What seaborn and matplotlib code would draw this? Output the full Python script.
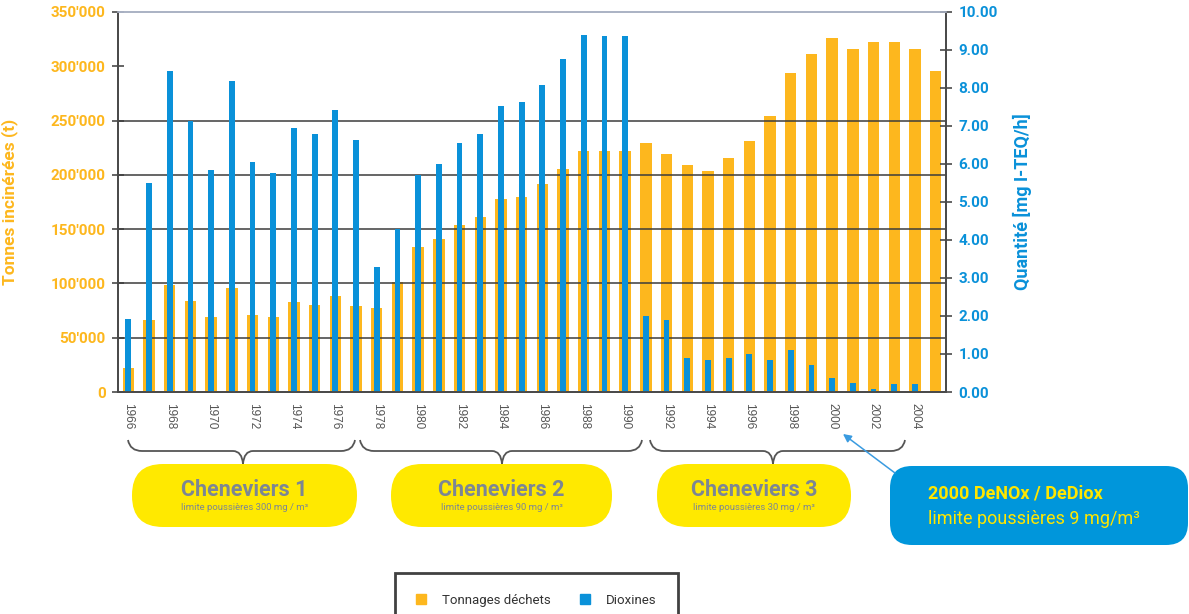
import numpy as np
import seaborn as sns
import matplotlib.pyplot as plt
from matplotlib.patches import FancyBboxPatch, Patch, PathPatch
from matplotlib.path import Path

# Data ------------------------------------------------------------------------
years = list(range(1966, 2006))
tonnes = [22000, 66000, 99000, 84000, 69000, 96000, 70500, 69000, 83000, 80500,
          88000, 79000, 77500, 101000, 133500, 140500, 154000, 161000, 178000, 179500,
          192000, 205000, 222000, 222000, 222000, 229000, 219000, 209000, 204000, 215500,
          231500, 254500, 294000, 311500, 326000, 315500, 322000, 322000, 315500, 295500]
dioxines = [1.91, 5.50, 8.44, 7.12, 5.83, 8.18, 6.04, 5.77, 6.94, 6.78,
            7.43, 6.62, 3.29, 4.29, 5.71, 5.99, 6.55, 6.78, 7.52, 7.63,
            8.09, 8.75, 9.40, 9.37, 9.37, 2.00, 1.89, 0.90, 0.83, 0.90,
            0.99, 0.83, 1.10, 0.70, 0.37, 0.25, 0.09, 0.20, 0.20, 0.0]
left_ticks = [0, 50000, 100000, 150000, 200000, 250000, 300000, 350000]
grid_levels = [50000, 100000, 150000, 200000, 250000]
right_ticks = list(range(0, 11))

phases = ["Cheneviers 1", "Cheneviers 2", "Cheneviers 3"]
phase_limits = ["limite poussières 300 mg / m³", "limite poussières 90 mg / m³",
                "limite poussières 30 mg / m³"]

ORANGE = "#FDB71E"
BLUE = "#0A91D9"
YELLOW = "#FFE900"
GREY_TXT = "#7C8694"
DARK = "#4a4a4a"

sns.set_style("white")
plt.rcParams['font.family'] = ['Roboto', 'DejaVu Sans']

fig = plt.figure(figsize=(11.89, 6.14), dpi=100)
ax = fig.add_axes([118 / 1189, 1 - 392 / 614, 828 / 1189, 380 / 614])
ax2 = ax.twinx()

labels = [str(y) for y in years]
sns.barplot(x=labels, y=tonnes, ax=ax, color=ORANGE, saturation=1, width=0.55,
            errorbar=None, linewidth=0, edgecolor="none", zorder=2)
sns.barplot(x=labels, y=dioxines, ax=ax2, color=BLUE, saturation=1, width=0.28,
            errorbar=None, linewidth=0, edgecolor="none", zorder=2)

ax.hlines(grid_levels, -0.5, 39.5, color="#3c3c3c", lw=1.1, zorder=3)

for a in (ax, ax2):
    a.set_xlim(-0.5, 39.5)
ax.set_ylim(0, 350000)
ax2.set_ylim(0, 10)

# x ticks: boundaries as minor ticks, even-year labels at centres
idx = np.arange(len(years))
ax.set_xticks(idx[::2])
ax.set_xticklabels(labels[::2], rotation=270, fontsize=8.5, color="#555555",
                   family="Liberation Sans")
ax.set_xticks(np.arange(-0.5, 40, 1), minor=True)
ax.tick_params(axis="x", which="major", length=0, pad=8, labelbottom=True)
ax.tick_params(axis="x", which="minor", length=5, width=1.2, color=DARK, direction="out")

ax.set_yticks(left_ticks)
ax.set_yticklabels([f"{v:,}".replace(",", "'") for v in left_ticks],
                   color=ORANGE, fontsize=11, fontweight="bold")
ax.tick_params(axis="y", length=8, width=1.2, color=DARK, direction="inout", pad=5)
ax2.set_yticks(right_ticks)
ax2.set_yticklabels([f"{v:.2f}" for v in right_ticks], color=BLUE, fontsize=11,
                    fontweight="bold")
ax2.tick_params(axis="y", length=8, width=1.2, color=DARK, direction="inout", pad=5)

ax.set_ylabel("Tonnes incinérées (t)", color=ORANGE, fontsize=12.5, fontweight="bold")
ax.yaxis.set_label_coords(-0.121, 0.5)
ax2.set_ylabel("Quantité [mg I-TEQ/h]", color=BLUE, fontsize=13, fontweight="bold")
ax2.yaxis.set_label_coords(1.081, 0.5)
ax.set_xlabel("")
ax2.set_xlabel("")

for a in (ax, ax2):
    for s in ("left", "right", "bottom"):
        a.spines[s].set_color(DARK)
        a.spines[s].set_linewidth(1.3)
    a.spines["top"].set_color("#aab2c4")
    a.spines["top"].set_linewidth(1.2)

# Overlay in pixel coordinates for braces and boxes --------------------------
ov = fig.add_axes([0, 0, 1, 1])
ov.set_xlim(0, 1189)
ov.set_ylim(614, 0)
ov.axis("off")
ov.patch.set_alpha(0)


def brace(x0, x1, xc, ytop=440, ymid=451, ytip=464):
    r = 10
    verts = [(x0, ytop), (x0 + 2, ymid), (x0 + r + 4, ymid),
             (xc - r, ymid), (xc - 1, ymid), (xc, ytip),
             (xc + 1, ymid), (xc + r, ymid),
             (x1 - r - 4, ymid), (x1 - 2, ymid), (x1, ytop)]
    codes = [Path.MOVETO, Path.CURVE3, Path.CURVE3,
             Path.LINETO, Path.CURVE3, Path.CURVE3,
             Path.CURVE3, Path.CURVE3,
             Path.LINETO, Path.CURVE3, Path.CURVE3]
    ov.add_patch(PathPatch(Path(verts, codes), fill=False, ec="#555555", lw=1.3))


brace(128, 355, 243)
brace(360, 642, 502)
brace(650, 905, 773)

boxes = [(132, 357), (391, 612), (657, 851)]
for (bx0, bx1), name, lim in zip(boxes, phases, phase_limits):
    ov.add_patch(FancyBboxPatch((bx0, 464), bx1 - bx0, 63,
                                boxstyle="round,pad=0,rounding_size=31",
                                fc=YELLOW, ec="none"))
    cx = (bx0 + bx1) / 2
    ov.text(cx, 490, name, ha="center", va="center", fontsize=15.5,
            fontweight="bold", color=GREY_TXT)
    ov.text(cx, 508, lim, ha="center", va="center", fontsize=6.8, color=GREY_TXT)

ov.add_patch(FancyBboxPatch((890, 466), 298, 79,
                            boxstyle="round,pad=0,rounding_size=22",
                            fc="#0096DB", ec="none"))
ov.text(928, 494, "2000 DeNOx / DeDiox", ha="left", va="center", fontsize=13,
        fontweight="bold", color="#FFE600")
ov.text(928, 519, "limite poussières 9 mg/m³", ha="left", va="center", fontsize=13,
        color="#FFE600")
ov.annotate("", xy=(843, 434), xytext=(895, 473),
            arrowprops=dict(arrowstyle="-|>", color="#3a9be0", lw=1.1,
                            mutation_scale=12, shrinkA=0, shrinkB=0))

# Legend -------------------------------------------------------------------
handles = [Patch(color=ORANGE, label="Tonnages déchets"),
           Patch(color=BLUE, label="Dioxines")]
leg = fig.legend(handles=handles, ncol=2, loc="upper left",
                 bbox_to_anchor=(388 / 1189, 1 - 566 / 614), frameon=True,
                 fancybox=False, fontsize=9.5, handlelength=0.8, handleheight=0.8,
                 handletextpad=1.2, columnspacing=2.2, borderpad=1.6,
                 labelcolor="#333333")
leg.get_frame().set_edgecolor("#111111")
leg.get_frame().set_linewidth(2)

fig.savefig("out.png", dpi=100)
plt.close(fig)
